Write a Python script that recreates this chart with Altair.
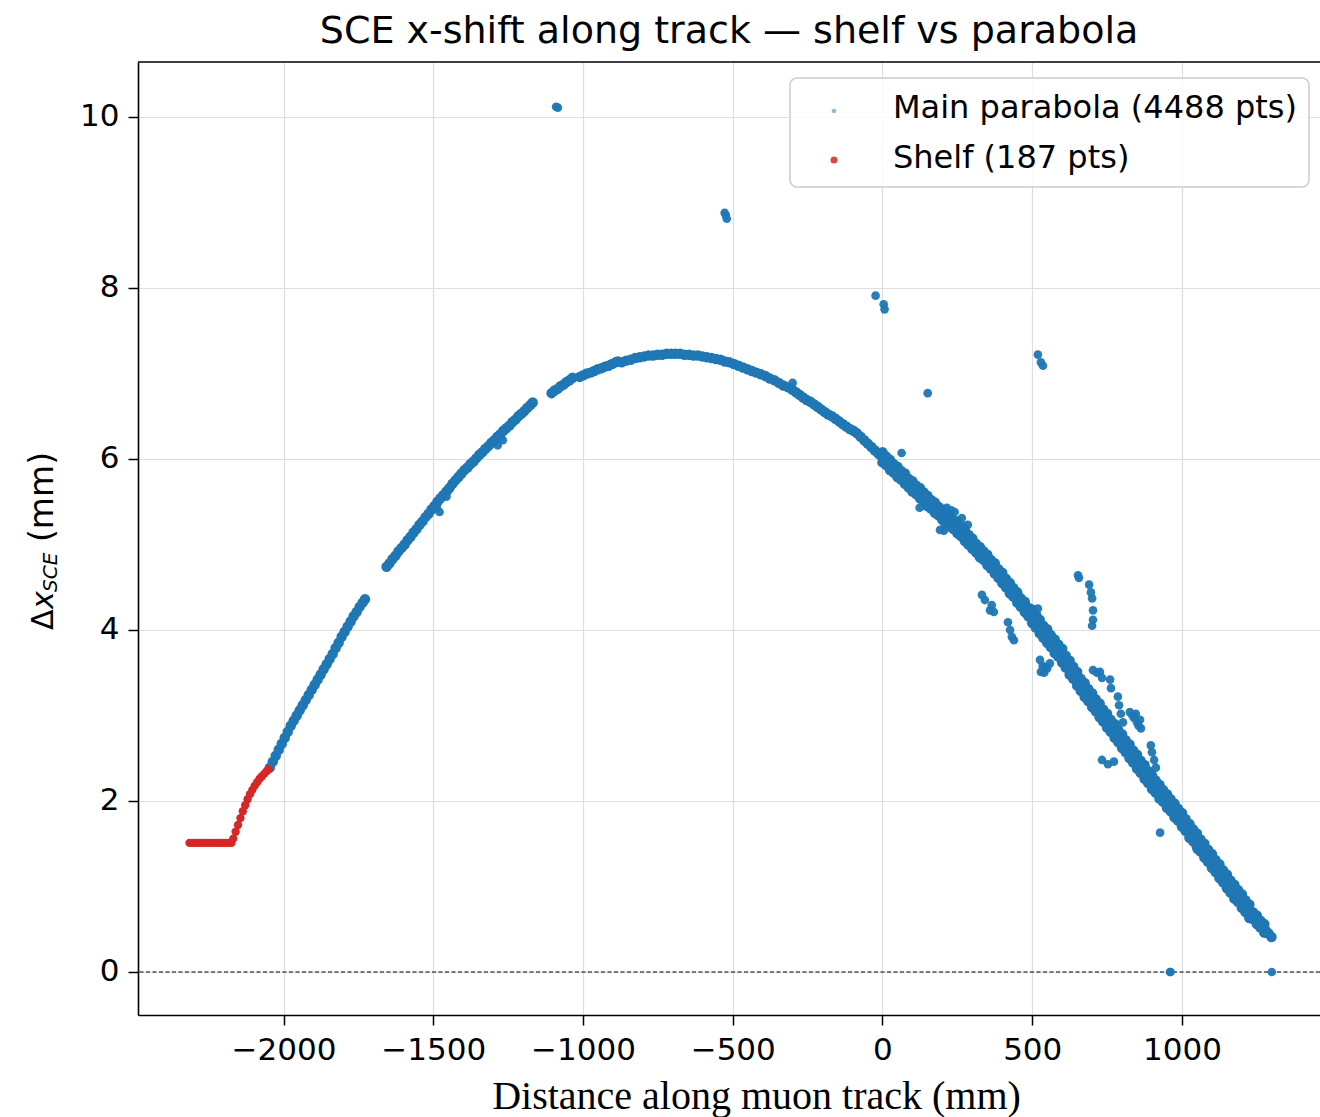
import altair as alt
import pandas as pd

MAIN_LABEL = "Main parabola (4488 pts)"
SHELF_LABEL = "Shelf (187 pts)"

# ---- main parabola, segment A (rising, left) ----
seg_a_x = [-2046, -2036, -2026, -2016, -2006, -1996, -1986, -1976, -1966, -1956, -1946, -1936, -1926,
           -1916, -1906, -1896, -1886, -1876, -1866, -1856, -1846, -1836, -1826, -1816, -1806, -1796,
           -1786, -1776, -1766, -1756, -1746, -1736, -1728]
seg_a_y = [2.39, 2.46, 2.53, 2.60, 2.67, 2.74, 2.81, 2.88, 2.94, 3.00, 3.06, 3.12, 3.18,
           3.24, 3.30, 3.36, 3.42, 3.48, 3.54, 3.60, 3.66, 3.72, 3.79, 3.85, 3.92, 3.98,
           4.04, 4.10, 4.16, 4.21, 4.27, 4.32, 4.36]

# ---- segment B ----
seg_b_x = [-1656, -1646, -1636, -1626, -1616, -1606, -1596, -1586, -1576, -1566, -1556, -1546, -1536,
           -1526, -1516, -1506, -1496, -1486, -1476, -1466, -1456, -1446, -1436, -1426, -1416, -1406,
           -1396, -1386, -1376, -1366, -1356, -1346, -1336, -1326, -1316, -1306, -1296, -1286, -1276,
           -1266, -1256, -1246, -1236, -1226, -1216, -1206, -1196, -1186, -1176, -1168]
seg_b_y = [4.74, 4.78, 4.83, 4.87, 4.92, 4.96, 5.00, 5.05, 5.09, 5.14, 5.18, 5.23, 5.27,
           5.32, 5.36, 5.41, 5.45, 5.50, 5.54, 5.58, 5.62, 5.66, 5.71, 5.75, 5.79, 5.83,
           5.87, 5.90, 5.94, 5.97, 6.01, 6.05, 6.08, 6.12, 6.15, 6.19, 6.22, 6.26, 6.29,
           6.33, 6.36, 6.39, 6.43, 6.46, 6.50, 6.53, 6.56, 6.60, 6.63, 6.66]

# ---- segments C and D (short pieces near the top-left) ----
seg_c_x = [-1105, -1095, -1085, -1075, -1065, -1055, -1045, -1035]
seg_c_y = [6.77, 6.80, 6.82, 6.85, 6.87, 6.90, 6.92, 6.95]
seg_d_x = [-1011, -999, -987, -975, -963, -951, -939, -927, -915, -903, -891, -884]
seg_d_y = [6.96, 6.98, 7.00, 7.01, 7.03, 7.05, 7.06, 7.08, 7.09, 7.11, 7.13, 7.14]

# ---- segment E (continuous, apex and descent) ----
seg_e_x = [-871, -856, -841, -826, -811, -796, -781, -766, -751, -736, -721, -706, -691, -676, -661,
           -646, -631, -616, -601, -586, -571, -556, -541, -526, -511, -496, -481, -466, -451, -436,
           -421, -406, -391, -376, -361, -346, -331, -316,
           -301, -289, -277, -265, -253, -241, -229, -217, -205, -193, -181, -169, -157, -145, -133,
           -121, -109, -97, -85, -73, -61, -49, -37, -25, -13, -1, 11, 23, 35, 47, 59, 71, 83, 95,
           107, 119, 131, 143, 155, 167, 179, 191, 203, 215, 227, 239, 251, 263, 275, 287,
           299, 309, 319, 329, 339, 349, 359, 369, 379, 389, 399, 409, 419, 429, 439, 449, 459, 469,
           479, 489, 499, 509, 519, 529, 539, 549, 559, 569, 579, 589, 599, 609, 619, 629, 639, 649,
           659, 669, 679, 689, 699, 709, 719, 729, 739, 749, 759, 769, 779, 789, 799, 809, 819, 829,
           839, 849, 859, 869, 879, 889, 899, 909, 919, 929, 939, 949, 959, 969, 979, 989, 999, 1009,
           1019, 1029, 1039, 1049, 1059, 1069, 1079, 1089, 1099, 1109, 1119, 1129, 1139, 1149, 1159,
           1169, 1179, 1189, 1199, 1209, 1219, 1229, 1239, 1249, 1259, 1269, 1279, 1289, 1299]
seg_e_y = [7.13, 7.15, 7.16, 7.18, 7.19, 7.20, 7.21, 7.21, 7.22, 7.22, 7.23, 7.23, 7.23, 7.23, 7.22,
           7.22, 7.21, 7.21, 7.20, 7.19, 7.18, 7.17, 7.16, 7.14, 7.13, 7.11, 7.09, 7.07, 7.05, 7.03,
           7.01, 6.99, 6.97, 6.94, 6.92, 6.89, 6.86, 6.84,
           6.81, 6.78, 6.75, 6.72, 6.69, 6.67, 6.64, 6.61, 6.58, 6.55, 6.52, 6.50, 6.47, 6.44, 6.41,
           6.38, 6.35, 6.33, 6.30, 6.26, 6.22, 6.18, 6.14, 6.10, 6.06, 6.02, 5.98, 5.94, 5.90, 5.86,
           5.82, 5.78, 5.74, 5.70,
           5.66, 5.62, 5.58, 5.54, 5.50, 5.46, 5.42, 5.38, 5.34, 5.31, 5.27, 5.23, 5.19, 5.15, 5.10,
           5.05,
           5.01, 4.97, 4.93, 4.89, 4.86, 4.82, 4.78, 4.74, 4.70, 4.65, 4.61, 4.56, 4.52, 4.47, 4.43,
           4.38, 4.34, 4.29, 4.25, 4.20, 4.16, 4.11, 4.07, 4.02, 3.98, 3.93, 3.88, 3.84, 3.79, 3.75,
           3.70, 3.64, 3.59, 3.54, 3.49, 3.43, 3.38, 3.33, 3.28, 3.23, 3.18, 3.14, 3.09, 3.04, 2.99,
           2.94, 2.89, 2.84, 2.80, 2.75, 2.70, 2.65, 2.61, 2.56, 2.51, 2.46, 2.42, 2.37, 2.32, 2.27,
           2.23, 2.18, 2.14, 2.09, 2.05, 2.00, 1.96, 1.91, 1.87, 1.82, 1.78, 1.73, 1.68, 1.63, 1.59,
           1.54, 1.49, 1.45, 1.40, 1.35, 1.30, 1.26, 1.21, 1.16, 1.11, 1.07, 1.02, 0.97, 0.92, 0.88,
           0.83, 0.78, 0.74, 0.69, 0.65, 0.61, 0.57, 0.53, 0.49, 0.45, 0.41]

# ---- band edges on the descending side (thick part of the band) ----
band_x = [0, 25, 50, 75, 100, 125, 150, 175, 200, 225, 250, 275, 300, 325, 350, 375, 400, 425, 450,
          475, 500, 525, 550, 575, 600, 625, 650, 675, 700, 725, 750, 775, 800, 825, 850, 875, 900,
          925, 950, 975, 1000, 1025, 1050, 1075, 1100, 1125, 1150, 1175, 1200, 1225, 1250, 1275]
band_hi_y = [6.08, 5.99, 5.91, 5.83, 5.74, 5.66, 5.57, 5.49, 5.41, 5.33, 5.25, 5.16, 5.07, 4.97,
             4.88, 4.78, 4.67, 4.55, 4.44, 4.33, 4.24, 4.12, 4.01, 3.89, 3.78, 3.64, 3.51, 3.38,
             3.26, 3.14, 3.02, 2.90, 2.78, 2.66, 2.54, 2.42, 2.30, 2.19, 2.08, 1.97, 1.86, 1.73,
             1.62, 1.50, 1.38, 1.26, 1.14, 1.02, 0.91, 0.79, 0.66, 0.56]
band_lo_y = [5.96, 5.87, 5.79, 5.71, 5.62, 5.54, 5.45, 5.37, 5.29, 5.21, 5.13, 5.04, 4.95, 4.85,
             4.76, 4.66, 4.55, 4.43, 4.32, 4.21, 4.08, 3.96, 3.85, 3.73, 3.62, 3.48, 3.35, 3.22,
             3.10, 2.98, 2.86, 2.74, 2.62, 2.50, 2.38, 2.26, 2.14, 2.03, 1.92, 1.81, 1.70, 1.57,
             1.46, 1.34, 1.22, 1.10, 0.98, 0.86, 0.75, 0.63, 0.56, 0.46]
band2_x = [12, 37, 62, 87, 112, 137, 162, 187, 212, 237, 262, 287, 312, 337, 362, 387, 412, 437,
           462, 487, 512, 537, 562, 587, 612, 637, 662, 687, 712, 737, 762, 787, 812, 837, 862, 887,
           912, 937, 962, 987, 1012, 1037, 1062, 1087, 1112, 1137, 1162, 1187, 1212, 1237, 1262]
band2_hi_y = [6.03, 5.94, 5.86, 5.77, 5.69, 5.61, 5.52, 5.44, 5.36, 5.28, 5.20, 5.10, 5.01, 4.92,
              4.82, 4.71, 4.60, 4.49, 4.37, 4.26, 4.17, 4.05, 3.94, 3.83, 3.70, 3.57, 3.43, 3.31,
              3.19, 3.07, 2.95, 2.83, 2.71, 2.59, 2.47, 2.35, 2.24, 2.13, 2.02, 1.91, 1.79, 1.67,
              1.55, 1.43, 1.31, 1.19, 1.07, 0.96, 0.84, 0.70, 0.60]
band2_lo_y = [5.93, 5.84, 5.76, 5.67, 5.59, 5.51, 5.42, 5.34, 5.26, 5.18, 5.10, 5.00, 4.91, 4.82,
              4.72, 4.61, 4.50, 4.39, 4.27, 4.16, 4.03, 3.91, 3.80, 3.69, 3.56, 3.43, 3.29, 3.17,
              3.05, 2.93, 2.81, 2.69, 2.57, 2.45, 2.33, 2.21, 2.10, 1.99, 1.88, 1.77, 1.65, 1.53,
              1.41, 1.29, 1.17, 1.05, 0.93, 0.82, 0.70, 0.62, 0.52]

# ---- outliers and side clusters of the main series ----
out_x = [-1090, -1084, -527, -523, -520, -23, 4, 7, 151, 64, 519, 529, 536, -300,
         -1488, -1479, -1456, -1285, -1268,
         124, 191, 215, 241, 265, 285, 208, 232, 258, 192, 278,
         200, 220, 250, 270, 230, 180, 290, 260, 205,
         332, 342, 365, 372, 359, 419, 426, 432, 439, 516, 519, 526, 542, 559, 529,
         535, 550, 540,
         653, 656, 690, 696, 700, 703, 703, 700,
         703, 716, 726, 733, 760, 763, 786, 790, 796, 803,
         826, 846, 860, 863, 840, 850, 855, 835, 733, 753, 773, 896, 900, 907, 913,
         927, 1050, 960, 962, 1300]
out_y = [10.12, 10.11, 8.88, 8.85, 8.81, 7.91, 7.81, 7.75, 6.77, 6.07, 7.22, 7.13, 7.09, 6.89,
         5.43, 5.38, 5.56, 6.16, 6.22,
         5.43, 5.38, 5.43, 5.38, 5.31, 5.23, 5.23, 5.26, 5.19, 5.17, 5.15,
         5.33, 5.30, 5.28, 5.22, 5.40, 5.44, 5.12, 5.10, 5.16,
         4.41, 4.35, 4.29, 4.21, 4.23, 4.09, 4.00, 3.92, 3.88, 4.18, 4.25, 3.65, 3.56, 3.61, 3.51,
         3.58, 3.55, 3.50,
         4.64, 4.61, 4.53, 4.44, 4.37, 4.23, 4.12, 4.05,
         3.53, 3.50, 3.51, 3.44, 3.42, 3.32, 3.22, 3.12, 3.02, 2.92,
         3.04, 3.02, 2.95, 2.85, 2.97, 2.92, 2.88, 3.00, 2.48, 2.43, 2.46, 2.65, 2.57, 2.48, 2.39,
         1.63, 1.43, 0.00, 0.00, 0.00]

# ---- shelf series ----
shelf_x = [-2314, -2304, -2294, -2284, -2274, -2264, -2254, -2244, -2234, -2224, -2214, -2204,
           -2194, -2184, -2174, -2168, -2160, -2152, -2144, -2136, -2128, -2120, -2112, -2104,
           -2096, -2088, -2080, -2072, -2064, -2056, -2050]
shelf_y = [1.51, 1.51, 1.51, 1.51, 1.51, 1.51, 1.51, 1.51, 1.51, 1.51, 1.51, 1.51,
           1.51, 1.51, 1.51, 1.56, 1.64, 1.72, 1.80, 1.88, 1.95, 2.02, 2.08, 2.13,
           2.18, 2.22, 2.26, 2.29, 2.32, 2.35, 2.37]

x_ticks = [-2000, -1500, -1000, -500, 0, 500, 1000]
y_ticks = [0, 2, 4, 6, 8, 10]
legend_labels = [MAIN_LABEL, SHELF_LABEL]

BLUE = "#1f77b4"
RED = "#d62728"

band_px = (seg_a_x + seg_b_x + seg_c_x + seg_d_x + seg_e_x + band_x + band_x
           + band2_x + band2_x)
band_py = (seg_a_y + seg_b_y + seg_c_y + seg_d_y + seg_e_y + band_hi_y + band_lo_y
           + band2_hi_y + band2_lo_y)
df_band = pd.DataFrame({"x": band_px, "y": band_py})
df_out = pd.DataFrame({"x": out_x, "y": out_y})
df_shelf = pd.DataFrame({"x": shelf_x, "y": shelf_y})

W, H = 1182, 953
xs = alt.Scale(domain=[-2486, 1461], nice=False, zero=False)
ys = alt.Scale(domain=[-0.503, 10.643], nice=False, zero=False)

x_axis = alt.Axis(values=x_ticks, format="d", grid=True, title="Distance along muon track (mm)",
                  titleFont="Liberation Serif", titleFontSize=40, titleFontWeight="normal",
                  titleColor="black", titleX=618, titleY=93, titleBaseline="alphabetic",
                  titleAlign="center", titleAnchor="start", labelPadding=10,
                  labelFont="DejaVu Sans", labelFontSize=31, labelColor="black",
                  tickColor="black", tickSize=10, tickWidth=1.5,
                  domainColor="black", domainWidth=1.6, gridColor="#dedede", gridWidth=1.2)
y_axis = alt.Axis(values=y_ticks, format="d", grid=True, title=None, labelPadding=9,
                  labelFont="DejaVu Sans", labelFontSize=31, labelColor="black",
                  tickColor="black", tickSize=10, tickWidth=1.5,
                  domainColor="black", domainWidth=1.6, gridColor="#dedede", gridWidth=1.2)

points_band = alt.Chart(df_band).mark_circle(size=110, color=BLUE, opacity=1).encode(
    x=alt.X("x:Q", scale=xs, axis=x_axis),
    y=alt.Y("y:Q", scale=ys, axis=y_axis),
)
points_out = alt.Chart(df_out).mark_circle(size=75, color=BLUE, opacity=0.95).encode(
    x=alt.X("x:Q", scale=xs),
    y=alt.Y("y:Q", scale=ys),
)
points_shelf = alt.Chart(df_shelf).mark_circle(size=70, color=RED, opacity=1).encode(
    x=alt.X("x:Q", scale=xs),
    y=alt.Y("y:Q", scale=ys),
)
zero_line = alt.Chart(pd.DataFrame({"y": [0]})).mark_rule(
    color="black", strokeWidth=1, strokeDash=[4, 2.5]).encode(y=alt.Y("y:Q", scale=ys))
top_spine = alt.Chart(pd.DataFrame({"a": [0]})).mark_rule(
    color="black", strokeWidth=1.6).encode(y=alt.value(0))

# legend (box, markers, labels)
leg_box = alt.Chart(pd.DataFrame({"a": [0]})).mark_rect(
    fill="white", fillOpacity=0.8, stroke="#cccccc", strokeWidth=1.5, cornerRadius=7).encode(
    x=alt.value(652), x2=alt.value(1171), y=alt.value(16), y2=alt.value(125))
leg_main_dot = alt.Chart(pd.DataFrame({"a": [0]})).mark_circle(
    size=22, color=BLUE, opacity=0.5).encode(x=alt.value(696), y=alt.value(49))
leg_shelf_dot = alt.Chart(pd.DataFrame({"a": [0]})).mark_circle(
    size=50, color=RED, opacity=0.85).encode(x=alt.value(696), y=alt.value(98))
leg_main_txt = alt.Chart(pd.DataFrame({"t": [legend_labels[0]]})).mark_text(
    font="DejaVu Sans", fontSize=32, align="left", baseline="alphabetic", color="black").encode(
    x=alt.value(755), y=alt.value(56), text="t:N")
leg_shelf_txt = alt.Chart(pd.DataFrame({"t": [legend_labels[1]]})).mark_text(
    font="DejaVu Sans", fontSize=32, align="left", baseline="alphabetic", color="black").encode(
    x=alt.value(755), y=alt.value(106), text="t:N")

# y-axis title with subscript: Δx_SCE (mm)
def ytitle_piece(txt, ypos, xpos, size, style):
    return alt.Chart(pd.DataFrame({"t": [txt]})).mark_text(
        font="DejaVu Sans", fontSize=size, fontStyle=style, angle=270, align="left",
        baseline="alphabetic", color="black").encode(
        x=alt.value(xpos), y=alt.value(ypos), text="t:N")

yt1 = ytitle_piece("Δ", 568, -85, 30, "normal")
yt2 = ytitle_piece("x", 547, -85, 30, "italic")
yt3 = ytitle_piece("SCE", 530, -81, 20, "italic")
yt4 = ytitle_piece("(mm)", 480, -85, 33, "normal")

chart = alt.layer(
    zero_line, points_band, points_out, points_shelf, top_spine,
    leg_box, leg_main_dot, leg_shelf_dot, leg_main_txt, leg_shelf_txt,
    yt1, yt2, yt3, yt4,
).properties(
    width=W, height=H,
    title=alt.TitleParams(text="SCE x-shift along track — shelf vs parabola", font="DejaVu Sans",
                          fontSize=38, fontWeight="normal", color="black", anchor="middle",
                          baseline="alphabetic", offset=17, dy=37),
    padding={"left": 138, "top": 62, "right": 0, "bottom": 102},
    autosize=alt.AutoSizeParams(type="none"),
    background="white",
).configure_view(stroke=None)

chart.save("out.html", embed_options={"renderer": "svg", "actions": False})
